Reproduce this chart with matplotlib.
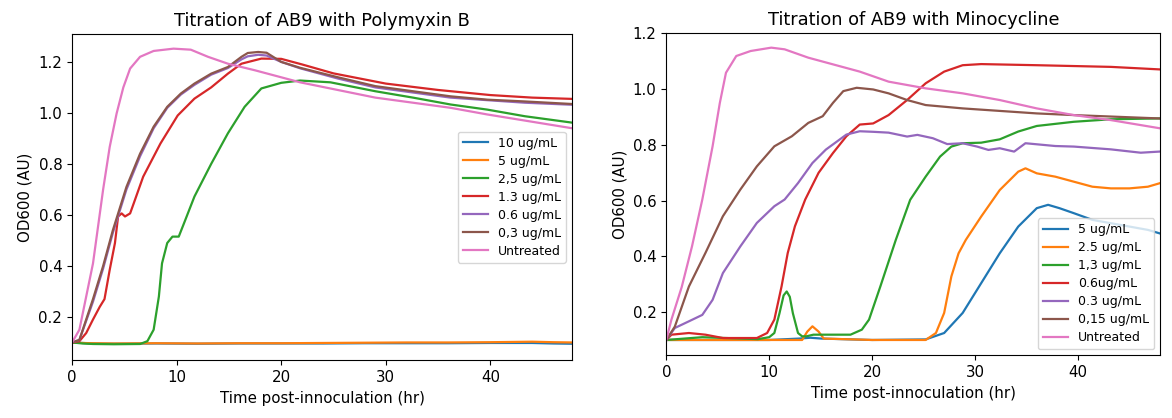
import matplotlib
matplotlib.use("Agg")
import matplotlib.pyplot as plt

# ---------------- Polymyxin B panel data ----------------
pmb_labels = ["10 ug/mL", "5 ug/mL", "2,5 ug/mL", "1.3 ug/mL", "0.6 ug/mL", "0,3 ug/mL", "Untreated"]

pmb_t_flat = [0, 1, 2, 4, 8, 12, 16, 20, 24, 28, 32, 36, 40, 44, 46, 47.8]
pmb_10 = [0.10, 0.098, 0.096, 0.095, 0.096, 0.095, 0.096, 0.096, 0.096, 0.097, 0.097, 0.097, 0.098, 0.098, 0.096, 0.095]
pmb_5 = [0.10, 0.098, 0.097, 0.096, 0.097, 0.096, 0.097, 0.097, 0.098, 0.099, 0.100, 0.100, 0.101, 0.103, 0.101, 0.100]

pmb_t_25 = [0, 1, 2, 4, 6.5, 7.2, 7.8, 8.3, 8.6, 9.1, 9.6, 10.2, 10.7, 11.7, 13.3, 14.9, 16.5, 18.1, 20, 21.8, 24.7, 29, 32.6, 36.2, 39.7, 43.3, 47.8]
pmb_25 = [0.10, 0.096, 0.094, 0.093, 0.094, 0.105, 0.15, 0.28, 0.41, 0.49, 0.515, 0.515, 0.567, 0.672, 0.80, 0.92, 1.024, 1.096, 1.118, 1.127, 1.12, 1.085, 1.06, 1.033, 1.013, 0.987, 0.962]

pmb_t_13 = [0, 0.7, 1.35, 2, 2.65, 3.1, 3.6, 4.1, 4.4, 4.74, 5.06, 5.55, 5.9, 6.8, 8.45, 10.1, 11.7, 13.3, 14.9, 16.2, 18.1, 20, 22, 25, 30, 35, 40, 44, 47.8]
pmb_13 = [0.10, 0.105, 0.137, 0.19, 0.24, 0.27, 0.385, 0.49, 0.594, 0.606, 0.594, 0.606, 0.646, 0.75, 0.88, 0.99, 1.056, 1.10, 1.154, 1.193, 1.213, 1.212, 1.19, 1.155, 1.115, 1.09, 1.07, 1.06, 1.055]

pmb_t_06 = [0, 0.7, 2, 2.97, 3.9, 5.2, 6.5, 7.8, 9.1, 10.4, 11.7, 13.3, 14.9, 16.2, 16.8, 17.8, 18.6, 20, 21.8, 25.4, 29, 32.6, 36.2, 39.7, 43.3, 47.8]
pmb_06 = [0.10, 0.11, 0.26, 0.39, 0.53, 0.70, 0.83, 0.94, 1.02, 1.072, 1.11, 1.15, 1.176, 1.21, 1.222, 1.228, 1.225, 1.20, 1.175, 1.135, 1.10, 1.08, 1.06, 1.05, 1.04, 1.032]
pmb_03 = [0.10, 0.11, 0.27, 0.40, 0.54, 0.71, 0.84, 0.946, 1.024, 1.076, 1.115, 1.154, 1.18, 1.22, 1.235, 1.239, 1.236, 1.20, 1.177, 1.14, 1.105, 1.085, 1.065, 1.052, 1.045, 1.035]

pmb_t_un = [0, 0.7, 2, 2.97, 3.6, 4.26, 4.9, 5.55, 6.5, 7.8, 9.7, 11.35, 13, 14.9, 17.5, 21.8, 25.4, 29, 32.6, 36.2, 39.7, 43.3, 47.8]
pmb_un = [0.10, 0.15, 0.41, 0.70, 0.867, 0.998, 1.10, 1.174, 1.22, 1.243, 1.252, 1.248, 1.22, 1.193, 1.167, 1.12, 1.09, 1.06, 1.04, 1.02, 0.994, 0.97, 0.94]

# ---------------- Minocycline panel data ----------------
min_labels = ["5 ug/mL", "2.5 ug/mL", "1,3 ug/mL", "0.6ug/mL", "0.3 ug/mL", "0,15 ug/mL", "Untreated"]

min_t_5 = [0, 5, 10, 12.9, 14, 15.1, 20, 25.2, 27, 28.8, 30.6, 32.4, 34.2, 36, 37.1, 38.2, 39.6, 41.4, 43.2, 45, 46.8, 47.9]
min_5 = [0.10, 0.10, 0.10, 0.105, 0.108, 0.105, 0.10, 0.102, 0.125, 0.197, 0.304, 0.411, 0.507, 0.573, 0.585, 0.573, 0.555, 0.531, 0.519, 0.507, 0.495, 0.483]

min_t_25 = [0, 5, 10, 13.2, 13.7, 14.2, 14.8, 15.3, 20, 25.2, 26.2, 27, 27.7, 28.4, 29.1, 30.6, 32.4, 34.2, 34.9, 36, 37.8, 39.6, 41.4, 43.2, 45, 46.8, 47.9]
min_25 = [0.10, 0.10, 0.10, 0.10, 0.13, 0.149, 0.13, 0.105, 0.10, 0.10, 0.125, 0.197, 0.328, 0.411, 0.459, 0.543, 0.638, 0.704, 0.716, 0.698, 0.686, 0.668, 0.65, 0.644, 0.644, 0.65, 0.662]

min_t_13 = [0, 3.5, 8.9, 10, 10.5, 11, 11.4, 11.7, 12.0, 12.3, 12.8, 13.2, 13.6, 14.3, 17.9, 19, 19.7, 20.8, 22.3, 23.7, 25.2, 26.6, 27.7, 28.8, 30.6, 32.4, 34.2, 36, 39.6, 43.2, 47.9]
min_13 = [0.10, 0.11, 0.103, 0.11, 0.125, 0.196, 0.26, 0.274, 0.255, 0.196, 0.125, 0.113, 0.113, 0.119, 0.119, 0.137, 0.173, 0.292, 0.459, 0.603, 0.686, 0.758, 0.794, 0.806, 0.808, 0.82, 0.848, 0.868, 0.883, 0.892, 0.895]

min_t_06 = [0, 0.5, 2.2, 3.8, 5.5, 8.8, 9.8, 10.5, 11.2, 11.8, 12.5, 13.5, 14.8, 16.2, 17.5, 18.8, 20.1, 21.6, 23.4, 25.2, 27, 28.8, 30.6, 36, 43.2, 47.9]
min_06 = [0.10, 0.119, 0.125, 0.119, 0.107, 0.107, 0.125, 0.173, 0.292, 0.412, 0.508, 0.604, 0.70, 0.771, 0.831, 0.873, 0.877, 0.907, 0.961, 1.021, 1.063, 1.086, 1.09, 1.086, 1.08, 1.071]

min_t_03 = [0, 0.83, 2.2, 3.5, 4.5, 5.5, 7.2, 8.8, 10.5, 11.5, 12.8, 14.2, 15.5, 17.5, 18.8, 20.1, 21.6, 23.4, 24.4, 25.9, 27.3, 28.8, 30.2, 31.3, 32.4, 33.8, 34.9, 37.8, 39.6, 43.2, 46.1, 47.9]
min_03 = [0.10, 0.143, 0.167, 0.19, 0.244, 0.34, 0.436, 0.52, 0.58, 0.604, 0.663, 0.735, 0.783, 0.837, 0.849, 0.847, 0.844, 0.83, 0.836, 0.824, 0.803, 0.806, 0.794, 0.782, 0.788, 0.776, 0.806, 0.796, 0.794, 0.784, 0.772, 0.776]

min_t_015 = [0, 0.83, 2.2, 3.8, 5.5, 7.2, 8.8, 10.5, 12.2, 13.8, 15.2, 16.2, 17.2, 18.5, 20.1, 21.6, 23.4, 25.2, 28.8, 32.4, 36, 39.6, 47.9]
min_015 = [0.10, 0.148, 0.292, 0.412, 0.544, 0.64, 0.723, 0.795, 0.831, 0.879, 0.903, 0.951, 0.993, 1.005, 0.999, 0.985, 0.961, 0.943, 0.931, 0.922, 0.913, 0.907, 0.895]

min_t_un = [0, 0.5, 1.5, 2.5, 3.5, 4.5, 5.2, 5.8, 6.8, 8.2, 10.2, 11.5, 13.8, 18.8, 21.6, 25.2, 28.8, 32.4, 36, 39.6, 43.2, 47.9]
min_un = [0.10, 0.173, 0.29, 0.436, 0.604, 0.795, 0.95, 1.059, 1.119, 1.137, 1.149, 1.143, 1.113, 1.063, 1.027, 1.003, 0.985, 0.961, 0.931, 0.907, 0.889, 0.86]

colors = ["#1f77b4", "#ff7f0e", "#2ca02c", "#d62728", "#9467bd", "#8c564b", "#e377c2"]

fig = plt.figure(figsize=(11.72, 4.18), dpi=100)
ax1 = fig.add_axes([0.0615, 0.138, 0.4265, 0.781])
ax2 = fig.add_axes([0.5685, 0.150, 0.4215, 0.770])

pmb_series = [(pmb_t_flat, pmb_10), (pmb_t_flat, pmb_5), (pmb_t_25, pmb_25), (pmb_t_13, pmb_13),
              (pmb_t_06, pmb_06), (pmb_t_06, pmb_03), (pmb_t_un, pmb_un)]
for (t, y), lab, c in zip(pmb_series, pmb_labels, colors):
    ax1.plot(t, y, color=c, lw=1.6, label=lab)
ax1.set_xlim(0, 47.8)
ax1.set_ylim(0.03, 1.31)
ax1.set_yticks([0.2, 0.4, 0.6, 0.8, 1.0, 1.2])
ax1.set_title("Titration of AB9 with Polymyxin B", fontsize=12.8)
ax1.set_xlabel("Time post-innoculation (hr)", fontsize=10.8)
ax1.set_ylabel("OD600 (AU)", fontsize=10.8)
ax1.legend(loc="center right", fontsize=9, labelspacing=0.4)

min_series = [(min_t_5, min_5), (min_t_25, min_25), (min_t_13, min_13), (min_t_06, min_06),
              (min_t_03, min_03), (min_t_015, min_015), (min_t_un, min_un)]
for (t, y), lab, c in zip(min_series, min_labels, colors):
    ax2.plot(t, y, color=c, lw=1.6, label=lab)
ax2.set_xlim(0, 48)
ax2.set_ylim(0.045, 1.2)
ax2.set_yticks([0.2, 0.4, 0.6, 0.8, 1.0, 1.2])
ax2.set_title("Titration of AB9 with Minocycline", fontsize=12.8)
ax2.set_xlabel("Time post-innoculation (hr)", fontsize=10.8)
ax2.set_ylabel("OD600 (AU)", fontsize=10.8)
ax2.legend(loc="lower right", fontsize=9, labelspacing=0.4)

for ax in (ax1, ax2):
    ax.tick_params(labelsize=10.8)
    ax.set_xticks([0, 10, 20, 30, 40])

fig.savefig("out.png", dpi=100)
